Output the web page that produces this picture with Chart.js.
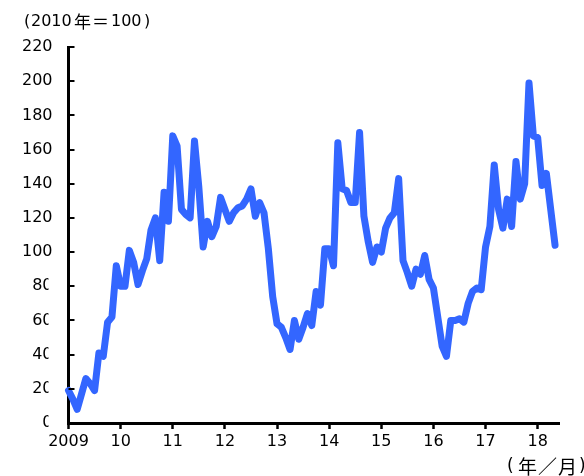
<!DOCTYPE html>
<html>
<head>
<meta charset="utf-8">
<script src="https://cdn.jsdelivr.net/npm/chart.js@4.4.1/dist/chart.umd.min.js"></script>
<style>
html,body{margin:0;padding:0;background:#fff;}
#wrap{position:relative;width:584px;height:476px;}
</style>
</head>
<body>
<div id="wrap"><canvas id="c" width="584" height="476"></canvas></div>
<script>
// Monthly index, Jan 2009 (0) ... May 2018 (112)
const yearLabels = ['2009','10','11','12','13','14','15','16','17','18'];
const yTicks = [0,20,40,60,80,100,120,140,160,180,200,220];
const values2009 = [19,14,8,17,26,23,19,41,39,59,62,92];
const values2010 = [80,80,101,94,81,89,96,113,120,95,135,118];
const values2011 = [168,162,125,122,120,165,138,103,118,109,115,132];
const values2012 = [125,118,123,126,127,131,137,121,129,123,102,74];
const values2013 = [58,56,50,43,60,49,56,64,57,77,69,102];
const values2014 = [102,92,164,137,136,129,129,170,121,106,94,103];
const values2015 = [100,114,120,123,143,95,88,80,90,87,98,84];
const values2016 = [79,62,45,39,60,60,61,59,70,77,79,78];
const values2017 = [103,115,151,125,114,131,115,153,131,140,199,168];
const values2018 = [167,139,146,125,104];
// title pieces: (text, x)
const titleParts = [['(',24],['2010',31],['年',74],['＝',92],['100',111],[')',144]];
const unitParts = [['(',507],['年',518],['／',538],['月',558],[')',579]];

const values = [].concat(values2009,values2010,values2011,values2012,values2013,
  values2014,values2015,values2016,values2017,values2018);
const points = values.map((v,i)=>({x:i,y:v}));

const FONT = '"DejaVu Sans","Noto Sans CJK JP",sans-serif';
const isCJK = s => /[\u3000-\u9fff\uff00-\uffef]/.test(s);

const decor = {
  id:'decor',
  afterDraw(chart){
    const ctx = chart.ctx, ca = chart.chartArea, ys = chart.scales.y;
    ctx.save();
    // mask lower tick label edges like the reference
    ctx.fillStyle = '#fff';
    ctx.fillRect(48.5, 268, 10, 166);
    // inward y tick marks
    ctx.strokeStyle = '#000'; ctx.lineWidth = 2;
    ys.ticks.forEach(t=>{
      const py = Math.round(ys.getPixelForValue(t.value));
      ctx.beginPath(); ctx.moveTo(ca.left, py); ctx.lineTo(ca.left+6, py); ctx.stroke();
    });
    ctx.fillStyle = '#000';
    ctx.textBaseline = 'middle';
    ctx.textAlign = 'left';
    titleParts.forEach(([t,x])=>{
      ctx.font = isCJK(t) ? '17px "Noto Sans CJK JP"' : '16px "DejaVu Sans"';
      ctx.fillText(t, x, 22);
    });
    unitParts.forEach(([t,x])=>{
      ctx.font = isCJK(t) ? '19px "Noto Sans CJK JP"' : '17px "DejaVu Sans"';
      ctx.fillText(t, x, 467);
    });
    ctx.restore();
  }
};

new Chart(document.getElementById('c'), {
  type:'line',
  data:{datasets:[{
    data:points,
    borderColor:'#3366ff',
    borderWidth:7,
    pointRadius:0,
    tension:0,
    borderJoinStyle:'round',
    borderCapStyle:'round',
    clip:false
  }]},
  options:{
    responsive:false,
    animation:false,
    events:[],
    layout:{padding:{left:0,right:24.6,top:47,bottom:0}},
    plugins:{legend:{display:false},tooltip:{enabled:false}},
    scales:{
      x:{
        type:'linear', min:0, max:113,
        afterBuildTicks(s){ s.ticks = yearLabels.map((_,i)=>({value:i*12})); },
        afterFit(s){ s.height = 53; },
        grid:{display:true, drawOnChartArea:false, drawTicks:true, tickLength:6, tickWidth:2.5, tickColor:'#000'},
        border:{display:true, color:'#000', width:3},
        ticks:{
          autoSkip:false, maxRotation:0, padding:3, color:'#000',
          font:{family:FONT,size:16},
          callback:(v)=> yearLabels[Math.round(v/12)]
        }
      },
      y:{
        min:0, max:220,
        afterBuildTicks(s){ s.ticks = yTicks.map(v=>({value:v})); },
        afterFit(s){ s.width = 68.5; },
        grid:{display:true, drawOnChartArea:false, drawTicks:false},
        border:{display:true, color:'#000', width:3},
        ticks:{padding:16, color:'#000', font:{family:FONT,size:16}}
      }
    }
  },
  plugins:[decor]
});
</script>
</body>
</html>
